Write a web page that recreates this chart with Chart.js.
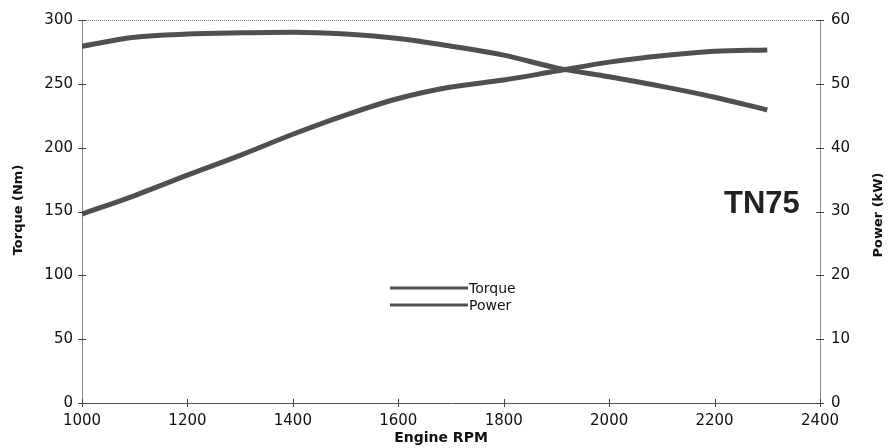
<!DOCTYPE html>
<html>
<head>
<meta charset="utf-8">
<script src="https://cdn.jsdelivr.net/npm/chart.js@4/dist/chart.umd.min.js"></script>
<style>
  html, body { margin: 0; padding: 0; background: #fff; }
  #wrap { width: 889px; height: 448px; position: relative; }
</style>
</head>
<body>
<div id="wrap"><canvas id="engineChart"></canvas></div>
<script>
// engine speed (RPM) and the two curves
const rpm = [1000, 1100, 1200, 1300, 1400, 1500, 1600, 1700, 1800, 1900, 2000, 2100, 2200, 2300];
const torqueNm = [279.5, 286.5, 289, 290, 290.5, 289, 285.5, 279.5, 272.5, 262.5, 255.5, 248, 239.5, 229.5];
const powerKw = [29.6, 32.5, 35.7, 38.8, 42.1, 45.1, 47.7, 49.5, 50.6, 52.0, 53.4, 54.4, 55.1, 55.3];

const seriesNames = ["Torque", "Power"];
const modelName = "TN75";
const xTitle = "Engine RPM";
const yLeftTitle = "Torque (Nm)";
const yRightTitle = "Power (kW)";

const lineColor = "#505050";
const tickFont = { family: "DejaVu Sans", size: 15 };

// draws the cross ticks, frame, axis titles, legend and model label
const decorations = {
    id: "decorations",
    afterDraw(chart) {
        const ctx = chart.ctx;
        const area = chart.chartArea;
        const x = chart.scales.x;
        const yl = chart.scales.y;
        const yr = chart.scales.y1;
        ctx.save();

        // dotted top frame
        ctx.strokeStyle = "#8a8a8a";
        ctx.lineWidth = 1;
        ctx.setLineDash([1, 1]);
        ctx.beginPath();
        ctx.moveTo(area.left, area.top + 0.5);
        ctx.lineTo(area.right, area.top + 0.5);
        ctx.stroke();
        ctx.setLineDash([]);

        // cross ticks
        ctx.strokeStyle = "#444";
        ctx.beginPath();
        yl.ticks.forEach(t => {
            const py = Math.round(yl.getPixelForValue(t.value)) + 0.5;
            ctx.moveTo(area.left - 4, py);
            ctx.lineTo(area.left + 4, py);
        });
        yr.ticks.forEach(t => {
            const py = Math.round(yr.getPixelForValue(t.value)) + 0.5;
            ctx.moveTo(area.right - 4, py);
            ctx.lineTo(area.right + 4, py);
        });
        x.ticks.forEach(t => {
            const px = Math.round(x.getPixelForValue(t.value)) + 0.5;
            ctx.moveTo(px, area.bottom - 4);
            ctx.lineTo(px, area.bottom + 4);
        });
        ctx.stroke();

        // axis titles
        ctx.fillStyle = "#111";
        ctx.font = "bold 14px 'DejaVu Sans'";
        ctx.textAlign = "center";
        ctx.textBaseline = "middle";
        ctx.fillText(xTitle, 441, 438);

        ctx.font = "bold 13px 'DejaVu Sans'";
        ctx.save();
        ctx.translate(19, 210);
        ctx.rotate(-Math.PI / 2);
        ctx.fillText(yLeftTitle, 0, 0);
        ctx.restore();
        ctx.save();
        ctx.translate(879, 215);
        ctx.rotate(-Math.PI / 2);
        ctx.fillText(yRightTitle, 0, 0);
        ctx.restore();

        // model label
        ctx.font = "bold 31px 'Liberation Sans'";
        ctx.textAlign = "left";
        ctx.fillStyle = "#222";
        ctx.fillText(modelName, 724, 204);

        // legend in the middle of the plot
        ctx.font = "14px 'DejaVu Sans'";
        const legendY = [288, 305];
        chart.data.datasets.forEach((ds, i) => {
            ctx.strokeStyle = ds.borderColor;
            ctx.lineWidth = 3;
            ctx.beginPath();
            ctx.moveTo(390, legendY[i]);
            ctx.lineTo(468, legendY[i]);
            ctx.stroke();
            ctx.fillStyle = "#111";
            ctx.fillText(ds.label, 469, legendY[i] + 1);
        });
        ctx.restore();
    }
};

const plainNumber = value => String(value);

new Chart(document.getElementById("engineChart"), {
    type: "line",
    data: {
        datasets: [
            {
                label: seriesNames[0],
                data: rpm.map((r, i) => ({ x: r, y: torqueNm[i] })),
                yAxisID: "y",
                borderColor: lineColor,
                borderWidth: 5,
                pointRadius: 0,
                cubicInterpolationMode: "monotone",
                fill: false
            },
            {
                label: seriesNames[1],
                data: rpm.map((r, i) => ({ x: r, y: powerKw[i] })),
                yAxisID: "y1",
                borderColor: lineColor,
                borderWidth: 5,
                pointRadius: 0,
                cubicInterpolationMode: "monotone",
                fill: false
            }
        ]
    },
    options: {
        responsive: true,
        maintainAspectRatio: false,
        animation: false,
        layout: { padding: { top: 15, left: 0, right: 0, bottom: 0 } },
        plugins: {
            legend: { display: false },
            tooltip: { enabled: false }
        },
        scales: {
            x: {
                type: "linear",
                min: 1000,
                max: 2400,
                ticks: { stepSize: 200, color: "#111", font: tickFont, padding: 9, callback: plainNumber },
                grid: { display: false, drawTicks: false },
                border: { display: true, color: "#555", width: 1 },
                afterFit(scale) { scale.height = 45; }
            },
            y: {
                position: "left",
                min: 0,
                max: 300,
                ticks: { stepSize: 50, color: "#111", font: tickFont, padding: 9, callback: plainNumber },
                grid: { display: false, drawTicks: false },
                border: { display: true, color: "#8a8a8a", width: 1, dash: [1, 1] },
                afterFit(scale) { scale.width = 82; }
            },
            y1: {
                position: "right",
                min: 0,
                max: 60,
                ticks: { stepSize: 10, color: "#111", font: tickFont, padding: 11, callback: plainNumber },
                grid: { display: false, drawTicks: false },
                border: { display: true, color: "#8a8a8a", width: 1, dash: [1, 1] },
                afterFit(scale) { scale.width = 69; }
            }
        }
    },
    plugins: [decorations]
});
</script>
</body>
</html>
